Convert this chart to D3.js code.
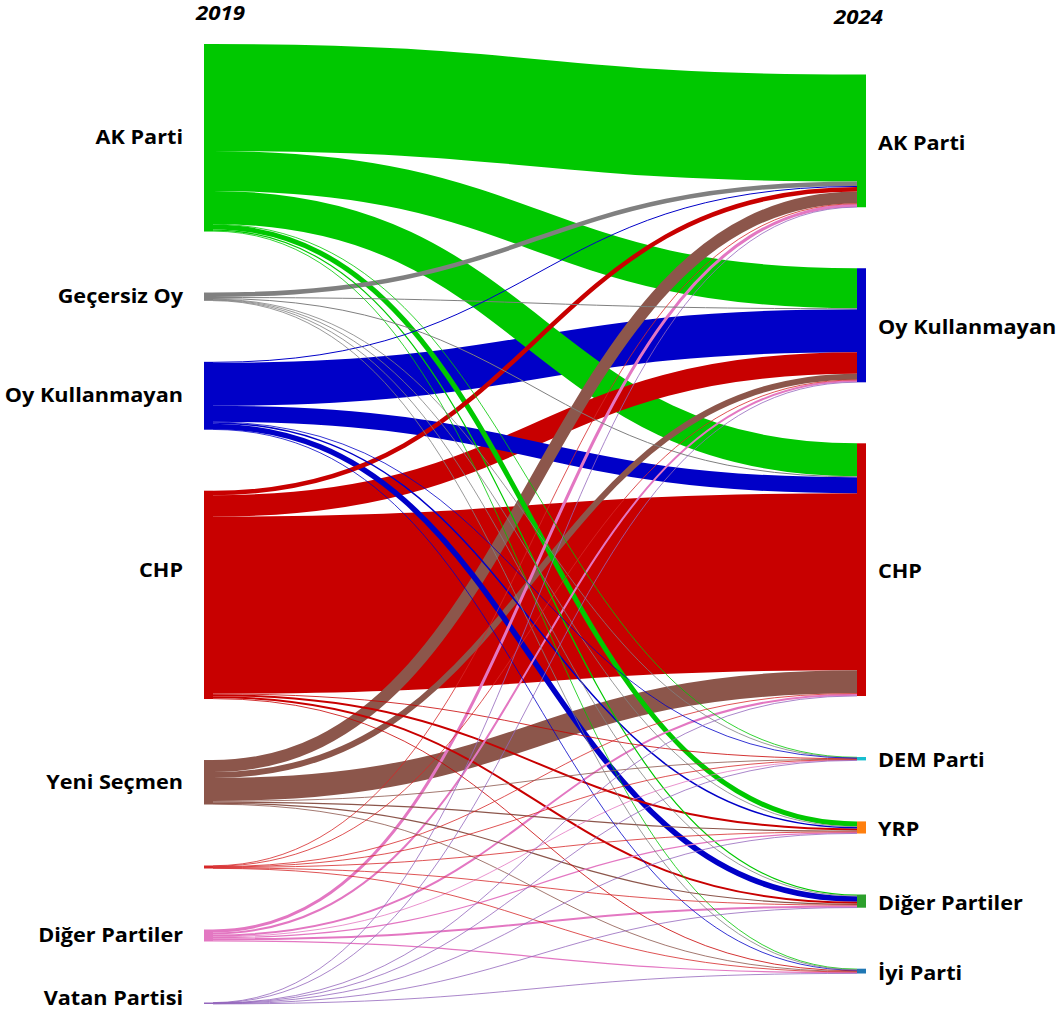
<!DOCTYPE html>
<html>
<head>
<meta charset="utf-8">
<script src="https://cdn.jsdelivr.net/npm/d3@7"></script>
<style>
  html, body { margin: 0; padding: 0; background: #fff; }
  svg { display: block; }
  text { font-family: "Open Sans", "Noto Sans", sans-serif; font-weight: 700; fill: #000; }
</style>
</head>
<body>
<svg id="chart" width="1059" height="1014"></svg>
<script>
// ---------------- DATA ----------------
const columnTitles = ["2019", "2024"];

const sources2019 = ["AK Parti", "Geçersiz Oy", "Oy Kullanmayan", "CHP", "Yeni Seçmen", "", "Diğer Partiler", "Vatan Partisi"];
const sourceColors = ["#00c800", "#808080", "#0000c8", "#c80000", "#8c564b", "#d62728", "#e377c2", "#9467bd"];

const targets2024 = ["AK Parti", "Oy Kullanmayan", "CHP", "DEM Parti", "YRP", "Diğer Partiler", "İyi Parti"];
const targetColors = ["#00c800", "#0000c8", "#c80000", "#17becf", "#ff7f0e", "#2ca02c", "#1f77b4"];

// flows from each 2019 group to the 2024 groups (order of targets2024)
const fromAKParti       = [107, 40, 33, 0.6, 5.0, 1.2, 0.8];
const fromGecersizOy    = [4.5, 1.0, 1.0, 0.4, 0.5, 0.5, 0.4];
const fromOyKullanmayan = [1.0, 43, 16, 0.4, 1.5, 5.5, 0.5];
const fromCHP           = [4.5, 21.5, 177, 0.6, 2.0, 2.0, 0.8];
const fromYeniSecmen    = [12, 6, 23, 0.5, 1.2, 1.2, 0.6];
const fromUnlabeled     = [0.5, 0.4, 0.6, 0.2, 0.5, 0.5, 0.3];
const fromDigerPartiler = [3.0, 2.0, 2.0, 0.6, 1.2, 2.0, 1.2];
const fromVatanPartisi  = [0.3, 0.2, 0.2, 0.1, 0.2, 0.3, 0.2];

const flowRows = [fromAKParti, fromGecersizOy, fromOyKullanmayan, fromCHP,
                  fromYeniSecmen, fromUnlabeled, fromDigerPartiler, fromVatanPartisi];

// ---------------- LAYOUT ----------------
const W = 1059, H = 1014;
const yTop = 44, yBottom = 1004, pad = 61;
const xLeft = 204, xRight = 857, nodeW = 9;

const svg = d3.select("#chart");

const leftNodes = sources2019.map((name, i) => ({
  name, color: sourceColors[i], side: "L", index: i,
  value: d3.sum(flowRows[i]), out: [], inn: []
}));
const rightNodes = targets2024.map((name, j) => ({
  name, color: targetColors[j], side: "R", index: j,
  value: d3.sum(flowRows, r => r[j]), out: [], inn: []
}));

const totalL = d3.sum(leftNodes, d => d.value);
const totalR = d3.sum(rightNodes, d => d.value);
const ky = Math.min(
  (yBottom - yTop - (leftNodes.length - 1) * pad) / totalL,
  (yBottom - yTop - (rightNodes.length - 1) * pad) / totalR
);
const h = d3.scaleLinear().domain([0, 1]).range([0, ky]);

function placeColumn(nodes, total, x0) {
  const span = h(total) + (nodes.length - 1) * pad;
  let y = (yTop + yBottom) / 2 - span / 2;
  nodes.forEach(n => {
    n.x0 = x0; n.x1 = x0 + nodeW;
    n.y0 = y; n.y1 = y + h(n.value);
    y = n.y1 + pad;
  });
}
placeColumn(leftNodes, totalL, xLeft);
placeColumn(rightNodes, totalR, xRight);

const links = [];
flowRows.forEach((row, i) => row.forEach((v, j) => {
  if (v > 0) {
    const l = { source: leftNodes[i], target: rightNodes[j], value: v, width: h(v) };
    links.push(l);
    leftNodes[i].out.push(l);
    rightNodes[j].inn.push(l);
  }
}));
leftNodes.forEach(n => {
  let y = n.y0;
  n.out.sort((a, b) => a.target.y0 - b.target.y0).forEach(l => { l.sy = y + l.width / 2; y += l.width; });
});
rightNodes.forEach(n => {
  let y = n.y0;
  n.inn.sort((a, b) => a.source.y0 - b.source.y0).forEach(l => { l.ty = y + l.width / 2; y += l.width; });
});

const linkGen = d3.linkHorizontal()
  .source(d => [d.source.x1, d.sy])
  .target(d => [d.target.x0, d.ty]);

// links: largest drawn first, thinnest on top
svg.append("g")
  .attr("fill", "none")
  .selectAll("path")
  .data(links.slice().sort((a, b) => b.value - a.value))
  .join("path")
  .attr("d", linkGen)
  .attr("stroke", d => d.source.color)
  .attr("stroke-width", d => Math.max(0.8, d.width));

// nodes
svg.append("g")
  .selectAll("rect")
  .data(leftNodes.concat(rightNodes))
  .join("rect")
  .attr("x", d => d.x0)
  .attr("y", d => d.y0)
  .attr("width", d => d.x1 - d.x0)
  .attr("height", d => Math.max(1.5, d.y1 - d.y0))
  .attr("fill", d => d.color);

// labels (the 2019 CHP label sits a little above its node centre in the original)
const sx = 1.14;
const labelNudge = d => (d.side === "L" && d.name === "CHP") ? -25 : (d.side === "L" && d.name === "Vatan Partisi" ? -5 : 0);
const labels = svg.append("g").attr("font-size", 19);
labels.selectAll("text.left")
  .data(leftNodes.filter(d => d.name))
  .join("text")
  .attr("class", "left")
  .attr("transform", d => `translate(${d.x0 - 21},${(d.y0 + d.y1) / 2 + labelNudge(d)}) scale(${sx},1)`)
  .attr("dy", "0.35em")
  .attr("text-anchor", "end")
  .text(d => d.name);
labels.selectAll("text.right")
  .data(rightNodes)
  .join("text")
  .attr("class", "right")
  .attr("transform", d => `translate(${d.x1 + 12},${(d.y0 + d.y1) / 2 + 2}) scale(${sx},1)`)
  .attr("dy", "0.35em")
  .attr("text-anchor", "start")
  .text(d => d.name);

// column titles
svg.append("text")
  .attr("transform", `translate(196,20) scale(${sx},1)`)
  .attr("font-size", 19.5).attr("font-style", "italic")
  .text(columnTitles[0]);
svg.append("text")
  .attr("transform", `translate(834,24) scale(${sx},1)`)
  .attr("font-size", 19.5).attr("font-style", "italic")
  .text(columnTitles[1]);
</script>
</body>
</html>
